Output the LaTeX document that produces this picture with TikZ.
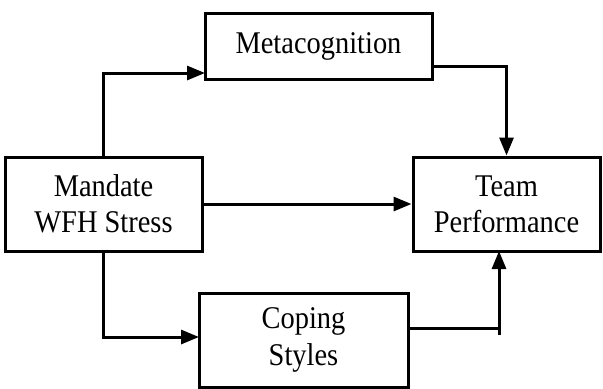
\documentclass[tikz,border=0pt]{standalone}
\usepackage{fontspec}
\setmainfont[FakeStretch=0.9]{Liberation Serif}
\usetikzlibrary{arrows.meta}
\begin{document}
\begin{tikzpicture}[x=0.5pt,y=-0.5pt,line width=1.5pt,
  box/.style={draw,align=center,inner sep=0pt,font=\fontsize{15.8}{18.2}\selectfont},
  arr/.style={-{Triangle[length=9pt,width=7pt]}}]
\useasboundingbox (0,0) rectangle (603,388);
\node[box,minimum width=113.5pt,minimum height=33pt] (meta) at (318.5,46) {Metacognition};
\node[box,minimum width=98.5pt,minimum height=47pt] (wfh) at (103.5,204) {Mandate\\WFH Stress};
\node[box,minimum width=93.5pt,minimum height=47pt] (team) at (506.5,204) {Team\\Performance};
\node[box,minimum width=104.5pt,minimum height=47pt] (coping) at (303.5,340) {Coping\\Styles};
\coordinate (metain) at (205,73);
\coordinate (metaout) at (432,66);
\coordinate (copin) at (199,337);
\coordinate (copout) at (408,328);
\coordinate (copturn) at (499,328);
\coordinate (tick) at (499,335);
\coordinate (teamin) at (499,251);
\draw[arr] (wfh.north) |- (metain);
\draw[arr] (metaout) -| (team.north);
\draw[arr] (wfh) -- (team);
\draw[arr] (wfh.south) |- (copin);
\draw (copout) -- (copturn);
\draw[arr] (tick) -- (teamin);
\end{tikzpicture}
\end{document}
